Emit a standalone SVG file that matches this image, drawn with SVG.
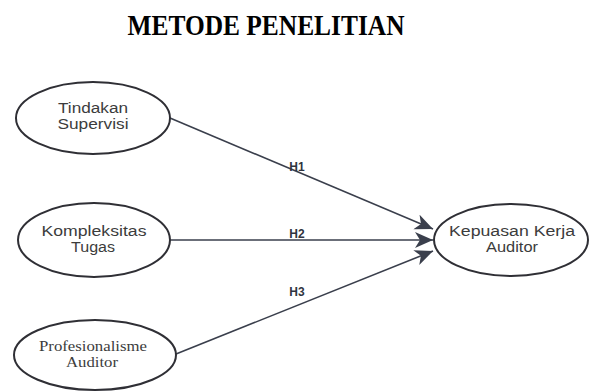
<svg xmlns="http://www.w3.org/2000/svg" width="590" height="392" viewBox="0 0 590 392">
<style>
.node ellipse{fill:#fff;stroke:#2f2f35;stroke-width:2}
.sans{font-family:"Liberation Sans",Arial,sans-serif;font-size:14px;fill:#3c3c3c;text-anchor:middle}
.serif{font-family:"Liberation Serif","Times New Roman",serif;font-size:14px;fill:#3c3c3c;text-anchor:middle}
.lbl{font-family:"Liberation Sans",Arial,sans-serif;font-size:12px;font-weight:bold;fill:#2f3440;text-anchor:middle}
.edge{stroke:#3a3f4c;stroke-width:1.6;fill:none}
</style>
<defs>
<marker id="arr" markerUnits="userSpaceOnUse" markerWidth="20" markerHeight="18" refX="18" refY="8" orient="auto" viewBox="0 0 20 18">
<path d="M0,0 L18,8 L0,16 L5,8 Z" fill="#3a3f4c"/>
</marker>
</defs>
<rect width="590" height="392" fill="#fff"/>
<text x="266" y="35" font-family="'Liberation Serif','Times New Roman',serif" font-size="30" font-weight="bold" fill="#000" text-anchor="middle" textLength="277" lengthAdjust="spacingAndGlyphs">METODE PENELITIAN</text>
<g id="connectors">
<line class="edge" x1="170" y1="118" x2="433" y2="229" marker-end="url(#arr)"/>
<line class="edge" x1="170" y1="240" x2="433" y2="240" marker-end="url(#arr)"/>
<line class="edge" x1="176" y1="354" x2="433" y2="251" marker-end="url(#arr)"/>
<text class="lbl" x="297" y="171">H1</text>
<text class="lbl" x="297" y="238">H2</text>
<text class="lbl" x="297" y="296">H3</text>
</g>
<g id="n1" class="node">
<ellipse cx="93" cy="118" rx="77" ry="36"/>
<text class="sans" x="93" y="113" textLength="70" lengthAdjust="spacingAndGlyphs">Tindakan</text>
<text class="sans" x="93" y="129" textLength="71" lengthAdjust="spacingAndGlyphs">Supervisi</text>
</g>
<g id="n2" class="node">
<ellipse cx="94" cy="240" rx="76" ry="37"/>
<text class="sans" x="94" y="236" textLength="105" lengthAdjust="spacingAndGlyphs">Kompleksitas</text>
<text class="sans" x="93" y="252" textLength="44" lengthAdjust="spacingAndGlyphs">Tugas</text>
</g>
<g id="n3" class="node">
<ellipse cx="95" cy="355" rx="81" ry="35"/>
<text class="serif" x="93" y="351" textLength="108" lengthAdjust="spacingAndGlyphs">Profesionalisme</text>
<text class="serif" x="92" y="367" textLength="52" lengthAdjust="spacingAndGlyphs">Auditor</text>
</g>
<g id="n4" class="node">
<ellipse cx="511" cy="240" rx="77" ry="36"/>
<text class="sans" x="512" y="236" textLength="126" lengthAdjust="spacingAndGlyphs">Kepuasan Kerja</text>
<text class="sans" x="512" y="252" textLength="52" lengthAdjust="spacingAndGlyphs">Auditor</text>
</g>
</svg>
